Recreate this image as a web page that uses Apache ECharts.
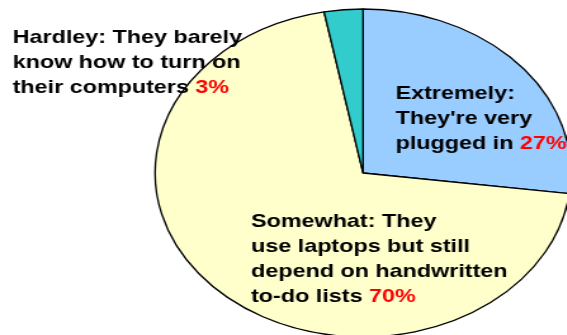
<!DOCTYPE html>
<html>
<head>
<meta charset="utf-8">
<script src="https://cdn.jsdelivr.net/npm/echarts@6/dist/echarts.min.js"></script>
<style>
  html, body { margin: 0; padding: 0; background: #fff; overflow: hidden; }
  /* the original picture is stretched sideways, pie and text alike */
  #chart {
    width: 447px;
    height: 335px;
    transform: scaleX(1.268);
    transform-origin: 0 0;
  }
</style>
</head>
<body>
<div id="chart"></div>
<script>
// data
const categories = [
  "Extremely:\nThey're very\nplugged in",
  "Somewhat: They\nuse laptops but still\ndepend on handwritten\nto-do lists",
  "Hardley: They barely\nknow how to turn on\ntheir computers"
];
const shares = [27, 70, 3];
const sliceColors = ["#99CCFF", "#FFFFCC", "#33CCCC"];

// where each label block starts (unstretched px)
const labelSpots = [[312, 81], [198, 209], [10, 25]];

const font = "'Liberation Sans', Arial, sans-serif";

const chart = echarts.init(document.getElementById("chart"));
chart.setOption({
  animation: false,
  series: [
    {
      type: "pie",
      center: [286.3, 173],
      radius: 164,
      startAngle: 90,
      clockwise: true,
      silent: true,
      itemStyle: {
        borderColor: "#000",
        borderWidth: 1.3
      },
      label: {
        show: true,
        position: "inside",
        color: "#000",
        fontFamily: font,
        fontWeight: "bold",
        fontSize: 18.4,
        lineHeight: 25,
        align: "left",
        formatter: function (p) {
          return p.name + " {r|" + p.value + "%}";
        },
        rich: {
          r: {
            color: "#FF0000",
            fontFamily: font,
            fontWeight: "bold",
            fontSize: 18.4,
            lineHeight: 25
          }
        }
      },
      labelLine: { show: false },
      labelLayout: function (p) {
        const s = labelSpots[p.dataIndex];
        return { x: s[0], y: s[1], align: "left", verticalAlign: "top" };
      },
      data: categories.map(function (c, i) {
        return { name: c, value: shares[i], itemStyle: { color: sliceColors[i] } };
      })
    }
  ]
});
</script>
</body>
</html>
